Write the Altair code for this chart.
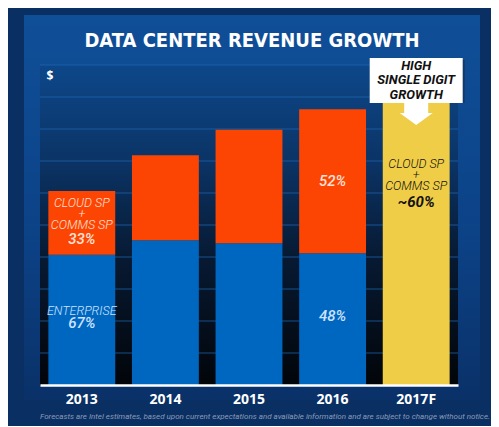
import altair as alt
import pandas as pd

# ---------------- data ----------------
years = ["2013", "2014", "2015", "2016", "2017F"]
enterprise = [4.07, 4.52, 4.43, 4.12]
cloud_comms = [1.99, 2.66, 3.55, 4.50]
forecast_total = 9.3
grid_levels = [1, 2, 3, 4, 5, 6, 7, 8, 9, 10]
title_text = "DATA CENTER REVENUE GROWTH"
callout_text = "HIGH\nSINGLE DIGIT\nGROWTH"
callout_top = 10.22
callout_bottom = 8.81
footnote = ("Forecasts are Intel estimates, based upon current expectations and "
            "available information and are subject to change without notice.")

rows = []
for yr, e, c in zip(years[:4], enterprise, cloud_comms):
    rows.append(dict(year=yr, seg="Enterprise", lo=0.0, hi=e))
    rows.append(dict(year=yr, seg="Cloud", lo=e, hi=e + c))
rows.append(dict(year="2017F", seg="Forecast", lo=0.0, hi=forecast_total))
bars_df = pd.DataFrame(rows)

# ---------------- scales ----------------
xscale = alt.Scale(domain=years, paddingInner=0.2, paddingOuter=0.1)
yscale = alt.Scale(domain=[0, 10], nice=False, zero=True)
X = alt.X("year:N", scale=xscale, sort=years,
          axis=alt.Axis(title=None, labelAngle=0, ticks=False, grid=False, zindex=1,
                        domainColor="white", domainWidth=2.5,
                        labelColor="white", labelFont="Open Sans",
                        labelFontWeight="bold", labelFontSize=14,
                        labelPadding=7))
one = pd.DataFrame({"a": [0]})


def grad(stops):
    return alt.Gradient(gradient="linear", x1=0, x2=0, y1=0, y2=1,
                        stops=[alt.GradientStop(offset=o, color=c) for o, c in stops])


panel = alt.Chart(one).mark_rect(
    fill=grad([(0, "#0f4f98"), (0.6, "#0c4185"), (1, "#0a3168")])
).encode(x=alt.value(-16), x2=alt.value(440), y=alt.value(-50), y2=alt.value(335))

plot_bg = alt.Chart(one).mark_rect(
    fill=grad([(0, "#0d4789"), (0.3, "#0b3466"), (0.6, "#071a33"), (1, "#020509")])
).encode(x=alt.value(0), x2=alt.value("width"), y=alt.value(0), y2=alt.value("height"))

grid = alt.Chart(pd.DataFrame({"v": grid_levels})).mark_rule(
    color="#1f66b0", strokeWidth=1, opacity=0.75
).encode(y=alt.Y("v:Q", scale=yscale, axis=None), x=alt.value(0), x2=alt.value("width"))

bars = alt.Chart(bars_df).mark_bar().encode(
    x=X,
    y=alt.Y("lo:Q", scale=yscale, axis=None),
    y2="hi:Q",
    color=alt.Color("seg:N", legend=None,
                    scale=alt.Scale(domain=["Enterprise", "Cloud", "Forecast"],
                                    range=["#0067c0", "#fd4503", "#f0cd47"])),
)

title = alt.Chart(one).mark_text(
    text=title_text, color="white", font="DejaVu Sans Condensed, DejaVu Sans, sans-serif",
    fontSize=20, fontWeight="bold", align="center", baseline="alphabetic"
).encode(x=alt.value(212), y=alt.value(-18))

dollar = alt.Chart(one).mark_text(
    text="$", color="white", font="Open Sans", fontSize=12, fontWeight="bold"
).encode(x=alt.value(10), y=alt.value(11))


def label(year, text, anchor, dy, size, weight, color, lh=11):
    d = pd.DataFrame({"year": [year], "v": [anchor]})
    return alt.Chart(d).mark_text(
        text=text, lineBreak="\n", lineHeight=lh, dy=dy, baseline="middle",
        font="Roboto", fontStyle="italic", fontSize=size, fontWeight=weight, color=color
    ).encode(x=X, y=alt.Y("v:Q", scale=yscale, axis=None))


e13, c13 = enterprise[0], cloud_comms[0]
e16, c16 = enterprise[3], cloud_comms[3]
labels = [
    label("2013", "CLOUD SP\n+\nCOMMS SP", e13 + c13 / 2, -20, 12.5, 300, "#fde2d8"),
    label("2013", "33%", e13 + c13 / 2, 16.5, 15, 500, "#fde2d8"),
    label("2013", "ENTERPRISE", e13 / 2, -9, 12.5, 300, "#cfe3ff"),
    label("2013", "67%", e13 / 2, 3, 15, 500, "#cfe3ff"),
    label("2016", "52%", e16 + c16 / 2, 0, 15, 500, "#fde2d8"),
    label("2016", "48%", e16 / 2, -3, 15, 500, "#cfe3ff"),
    label("2017F", "CLOUD SP\n+\nCOMMS SP", forecast_total * 0.66, -25, 12.5, 300, "#111111"),
    label("2017F", "~60%", forecast_total * 0.66, 13, 15, "bold", "#111111"),
]

call_df = pd.DataFrame({"year": ["2017F"], "top": [callout_top], "bottom": [callout_bottom]})
shadow = alt.Chart(call_df).mark_bar(width=93, color="#1c2c44", opacity=0.6, xOffset=2, yOffset=2).encode(
    x=X, y=alt.Y("top:Q", scale=yscale, axis=None), y2="bottom:Q")
box = alt.Chart(call_df).mark_bar(width=93, color="white").encode(
    x=X, y=alt.Y("top:Q", scale=yscale, axis=None), y2="bottom:Q")
box_text = alt.Chart(call_df.assign(mid=(callout_top + callout_bottom) / 2)).mark_text(
    text=callout_text, lineBreak="\n", lineHeight=14.5, baseline="middle", dy=-15,
    font="Roboto", fontStyle="italic", fontWeight="bold", fontSize=13, color="#111111"
).encode(x=X, y=alt.Y("mid:Q", scale=yscale, axis=None))

arrow_path = "M -0.727 -0.667 L 0.727 -0.667 L 0.727 -0.06 L 1 -0.06 L 0 0.667 L -1 -0.06 L -0.727 -0.06 Z"
arrow = alt.Chart(call_df.assign(pos=callout_bottom - 0.34)).mark_point(
    shape=arrow_path, size=1089, filled=True, fill="white", opacity=1, strokeWidth=0
).encode(x=X, y=alt.Y("pos:Q", scale=yscale, axis=None))

foot = alt.Chart(one).mark_text(
    text=footnote, font="Roboto", fontStyle="italic", fontSize=8,
    color="#8a9bb8", align="center", baseline="middle"
).encode(x=alt.value(225), y=alt.value(352))

chart = alt.layer(
    panel, plot_bg, grid, bars, *labels, shadow, box, box_text, arrow, title, dollar, foot
).properties(
    width=418, height=320,
    autosize=alt.AutoSizeParams(type="none"),
    padding={"left": 32, "top": 57, "right": 33, "bottom": 41},
    background="#0a2f62",
).configure_view(stroke=None)

chart.save("out.html", embed_options={"renderer": "svg", "actions": False})
